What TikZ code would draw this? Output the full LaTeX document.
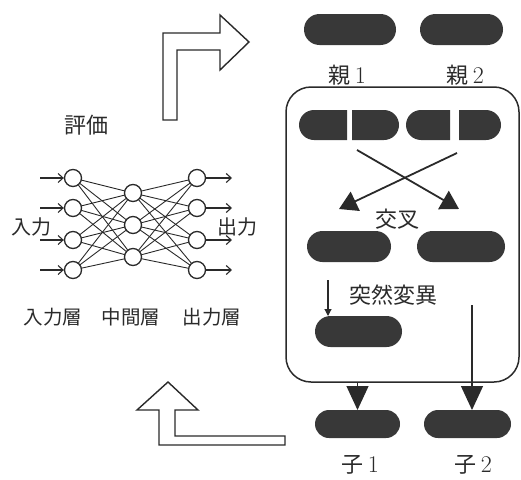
\documentclass[tikz,border=0pt]{standalone}
\usepackage{fontspec}
\newfontfamily\jp{Noto Sans CJK JP}
\newfontfamily\lmr{Latin Modern Roman}
\usetikzlibrary{shapes.misc,arrows.meta,calc}
\definecolor{ink}{HTML}{2A2A2A}
\definecolor{barfill}{HTML}{383838}
\newcommand\dig[1]{{\lmr\fontsize{24}{22}\selectfont #1}}
\begin{document}
\begin{tikzpicture}[x=1pt,y=-1pt,
  bar/.style={rounded rectangle, fill=barfill, draw=none, inner sep=0pt, outer sep=0pt, minimum height=31pt},
  lcut/.style={rounded rectangle left arc=none},
  rcut/.style={rounded rectangle right arc=none},
  neuron/.style={circle, draw=ink, line width=1.3pt, fill=white, minimum size=17pt, inner sep=0pt},
  lbl/.style={font=\jp\fontsize{20}{20}\selectfont, text=ink, inner sep=0pt},
  layerlbl/.style={font=\jp\fontsize{19.5}{20}\selectfont, text=ink, inner sep=0pt},
  biglbl/.style={font=\jp\fontsize{22}{22}\selectfont, text=ink, inner sep=0pt},
  wire/.style={draw=ink, line width=0.9pt},
  ioarrow/.style={draw=ink, line width=1.1pt, -{Straight Barb[length=5pt,width=9pt]}},
  bigarrow/.style={draw=ink, line width=1.4pt, fill=white, line join=miter},
  cross/.style={draw=ink, line width=1.8pt, -{Triangle[length=18pt,width=21pt]}},
  thinarrow/.style={draw=ink, line width=1.2pt, -{Triangle[length=24pt,width=22pt]}},
]
\useasboundingbox (0,0) rectangle (521,479);

% ---- neural network ----
\foreach \i/\y in {1/178,2/208,3/240,4/270}{
  \coordinate (in\i) at (73,\y);
  \coordinate (out\i) at (197,\y);
  \coordinate (src\i) at (40,\y);
  \coordinate (dst\i) at (232,\y);
}
\foreach \j/\y in {1/193,2/225,3/257}{
  \coordinate (hid\j) at (133,\y);
}
\foreach \i in {1,2,3,4}{
  \foreach \j in {1,2,3}{
    \draw[wire] (in\i) -- (hid\j);
    \draw[wire] (hid\j) -- (out\i);
  }
}
\foreach \i in {1,2,3,4}{
  \node[neuron] (nin\i) at (in\i) {};
  \node[neuron] (nout\i) at (out\i) {};
}
\foreach \j in {1,2,3}{
  \node[neuron] (nhid\j) at (hid\j) {};
}
\foreach \i in {1,2,3,4}{
  \draw[ioarrow] (src\i) -- (nin\i);
  \draw[ioarrow] (nout\i) -- (dst\i);
}
\node[lbl] (inlbl) at (31,227) {入力};
\node[lbl] (outlbl) at (237,227) {出力};
\node[layerlbl] (l1) at (53,317) {入力層};
\node[layerlbl] (l2) at (131,317) {中間層};
\node[layerlbl] (l3) at (212,317) {出力層};
\node[biglbl] (eval) at (86,125) {評価};

% ---- big hollow arrows ----
\draw[bigarrow] (163,120) -- (163,33) -- (220,33) -- (220,15) -- (249,42)
  -- (220,70) -- (220,50) -- (177,50) -- (177,120) -- cycle;
\draw[bigarrow] (168,382) -- (198,410) -- (175,410) -- (175,436) -- (285,436)
  -- (285,445) -- (159,445) -- (159,410) -- (137,410) -- cycle;

% ---- GA box ----
\node[draw=ink, line width=1.5pt, rounded corners=25pt, minimum width=233pt,
  minimum height=295pt, inner sep=0pt] (box) at (402.5,234.5) {};

% parents
\node[bar, minimum width=92pt] (p1) at (350,29.5) {};
\node[bar, minimum width=83pt] (p2) at (461.5,29.5) {};
\node[biglbl] (p1l) at (347,75) {親 \dig{1}};
\node[biglbl] (p2l) at (465,75) {親 \dig{2}};

% split parents
\node[bar, rcut, minimum width=48pt, minimum height=30pt] (s1) at (323,125) {};
\node[bar, lcut, minimum width=47pt, minimum height=30pt] (s2) at (375.5,125) {};
\node[bar, rcut, minimum width=44pt, minimum height=30pt] (s3) at (428,125) {};
\node[bar, lcut, minimum width=42pt, minimum height=30pt] (s4) at (480,125) {};

% crossover arrows
\coordinate (ca1) at (357,150);
\coordinate (ca1e) at (459,209);
\coordinate (ca2) at (457,153);
\coordinate (ca2e) at (339,209);
\draw[cross] (ca1) -- (ca1e);
\draw[cross] (ca2) -- (ca2e);
\node[biglbl] (xlbl) at (397,219) {交叉};

% after crossover
\node[bar, minimum width=84pt] (x1) at (349,246.5) {};
\node[bar, minimum width=88pt] (x2) at (461,246.5) {};

% mutation
\node[biglbl] (mlbl) at (393,295) {突然変異};
\node[bar, minimum width=87pt] (mut) at (358.5,331.5) {};
\coordinate (mstart) at (328,280);
\draw[draw=ink, line width=1.1pt, -{Triangle[length=7pt,width=7pt]}] (mstart) -- (mstart |- mut.north);

% children
\node[bar, minimum width=85pt, minimum height=28pt] (c1) at (357.5,424) {};
\node[bar, minimum width=87pt, minimum height=28pt] (c2) at (467.5,424) {};
\draw[thinarrow] (c1.north |- box.south) -- (c1.north);
\coordinate (c2start) at (472,305);
\draw[thinarrow] (c2start) -- (c2start |- c2.north);
\node[biglbl] (c1l) at (360,465) {子 \dig{1}};
\node[biglbl] (c2l) at (473,465) {子 \dig{2}};
\end{tikzpicture}
\end{document}
